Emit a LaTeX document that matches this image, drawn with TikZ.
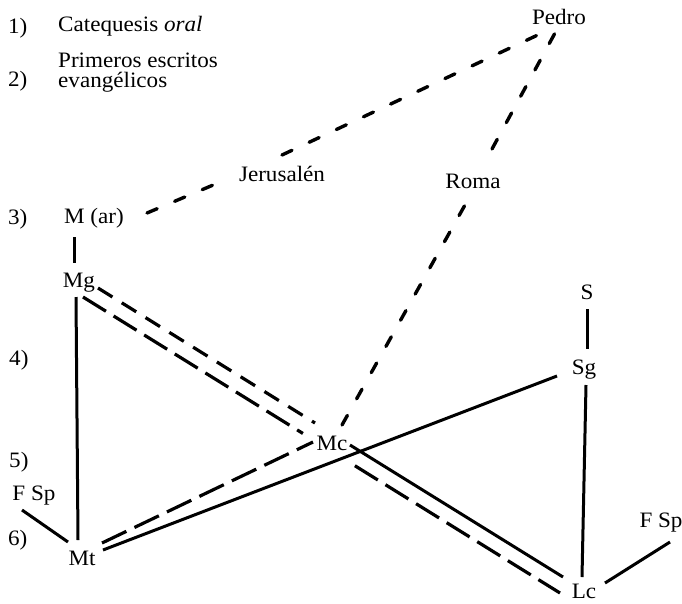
\documentclass[tikz,border=0pt]{standalone}
\usepackage{fontspec}
\setmainfont{Liberation Serif}[FakeStretch=1.05]
\usetikzlibrary{calc}
\begin{document}
\begin{tikzpicture}[x=1pt,y=-1pt,
  lbl/.style={inner sep=0pt, anchor=base, font=\fontsize{22}{24}\selectfont},
  lft/.style={inner sep=0pt, anchor=base west, font=\fontsize{22}{24}\selectfont},
  solidln/.style={line width=3pt},
  longdash/.style={line width=3.2pt, dash pattern=on 27pt off 9pt},
  shortdash/.style={line width=3.2pt, dash pattern=on 17pt off 11pt},
  routedash/.style={line width=3.4pt, line cap=round, dash pattern=on 11pt off 19pt}]
\fill[white] (0,0) rectangle (682,603);
\useasboundingbox (0,0) rectangle (682,603);
% stage labels
\node[lft] (s1) at (8,33) {1)};
\node[lft] (t1) at (58,31) {Catequesis \textit{oral}};
\node[lft] (s2) at (8,86) {2)};
\node[lft] (t2a) at (58,67) {Primeros escritos};
\node[lft] (t2b) at (58,87) {evangélicos};
\node[lft] (s3) at (8,224) {3)};
\node[lft] (s4) at (9,365) {4)};
\node[lft] (s5) at (9,467) {5)};
\node[lft] (s6) at (8,545) {6)};
% nodes
\node[lbl] (Pedro) at (559,24) {Pedro};
\node[lbl] (Jer) at (282,181) {Jerusalén};
\node[lbl] (Roma) at (473,188) {Roma};
\node[lbl] (Mar) at (94,223) {M (ar)};
\node[lbl] (Mg) at (79,287) {Mg};
\node[lbl] (S) at (587,299) {S};
\node[lbl] (Sg) at (584,374) {Sg};
\node[lbl] (Mc) at (332,450) {Mc};
\node[lbl] (FSpL) at (34,500) {F Sp};
\node[lbl] (Mt) at (82,565) {Mt};
\node[lbl] (FSpR) at (661,527) {F Sp};
\node[lbl] (Lc) at (584,598) {Lc};
% gap points on the Mg--Lc line
\coordinate (mgA) at ([shift={(4,10)}]Mg.base);
\coordinate (lcA) at ([shift={(-24,-5)}]Lc.base);
% connectors
\draw[solidln] ([shift={(-20,14)}]Mar.base) -- ([shift={(-5,-24)}]Mg.base);
\draw[solidln] ([shift={(-3,10)}]Mg.base) -- ([shift={(-4,-25)}]Mt.base);
\draw[solidln] ([shift={(-14,-23)}]Mt.base) -- ([shift={(-12,10)}]FSpL.base);
\draw[longdash] ([shift={(20,-22)}]Mt.base) -- ([shift={(-19,-8)}]Mc.base);
\draw[solidln] ([shift={(21,-15)}]Mt.base) -- ([shift={(-27,2)}]Sg.base);
\draw[shortdash] ([shift={(19,1)}]Mg.base) -- ([shift={(-17,-27)}]Mc.base);
\draw[longdash] (mgA) -- ($(mgA)!0.461!(lcA)$);
\draw[longdash] ($(mgA)!0.570!(lcA)$) -- (lcA);
\draw[solidln] ([shift={(18,-5)}]Mc.base) -- ([shift={(-21,-21)}]Lc.base);
\draw[routedash] ([shift={(10,-25)}]Mc.base) -- ([shift={(-3,8)}]Roma.base);
\draw[routedash] ([shift={(19,-39)}]Roma.base) -- ([shift={(-4,9)}]Pedro.base);
\draw[routedash] ([shift={(53,-10)}]Mar.base) -- ([shift={(-57,-1)}]Jer.base);
\draw[routedash] ([shift={(0,-26)}]Jer.base) -- ([shift={(-17,9)}]Pedro.base);
\draw[solidln] ([shift={(0,10)}]S.base) -- ([shift={(3,-25)}]Sg.base);
\draw[solidln] ([shift={(2,11)}]Sg.base) -- ([shift={(-2,-21)}]Lc.base);
\draw[solidln] ([shift={(21,-15)}]Lc.base) -- ([shift={(9,15)}]FSpR.base);
\end{tikzpicture}
\end{document}
